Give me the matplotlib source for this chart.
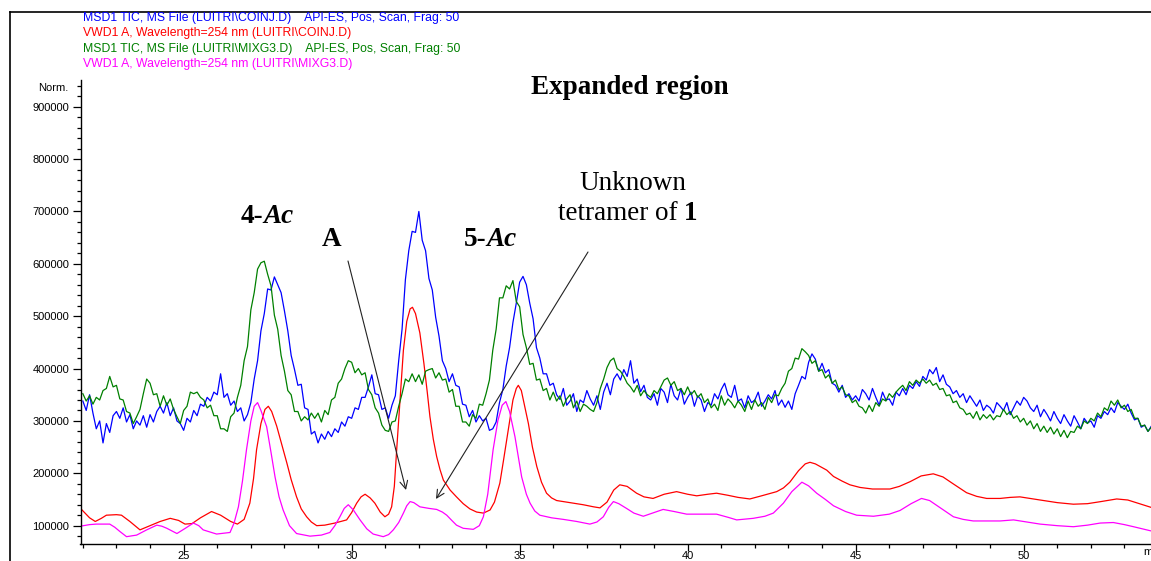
import numpy as np
import matplotlib
matplotlib.use("Agg")
import matplotlib.pyplot as plt
from matplotlib.ticker import MultipleLocator, FixedLocator
from matplotlib.lines import Line2D

# ---------------- data (values in thousands of counts) ----------------
tic_t0 = 22.0      # min, first TIC sample
tic_dt = 0.1       # min, TIC sampling step

blue_k = [
    338, 320, 350, 315, 285, 300, 258, 295, 278, 310,
    318, 305, 325, 298, 312, 285, 300, 292, 310, 288,
    312, 298, 318, 328, 315, 335, 310, 325, 300, 295,
    282, 305, 298, 320, 310, 332, 328, 345, 338, 355,
    350, 390, 345, 352, 330, 338, 318, 325, 300, 312,
    335, 380, 415, 472, 505, 552, 550, 575, 560, 545,
    510, 472, 425, 398, 368, 370, 325, 322, 275, 280,
    258, 275, 265, 280, 270, 285, 278, 298, 290, 308,
    305, 325, 322, 345, 345, 365, 388, 352, 350, 322,
    325, 305, 330, 348, 415, 475, 570, 625, 662, 660,
    700, 645, 625, 572, 550, 498, 462, 415, 400, 375,
    390, 368, 365, 332, 330, 308, 320, 298, 310, 300,
    305, 282, 285, 298, 335, 360, 405, 440, 488, 525,
    565, 576, 560, 525, 495, 440, 420, 390, 390, 368,
    372, 350, 341, 362, 330, 338, 352, 318, 340, 335,
    358, 342, 330, 348, 322, 355, 372, 350, 380, 390,
    378, 398, 385, 415, 372, 380, 356, 368, 345, 340,
    352, 330, 362, 355, 335, 370, 348, 340, 362, 332,
    345, 355, 328, 348, 340, 318, 335, 330, 352, 342,
    360, 372, 350, 345, 368, 338, 342, 325, 348, 335,
    340, 355, 328, 338, 350, 342, 358, 330, 340, 326,
    338, 322, 352, 368, 385, 380, 412, 428, 418, 395,
    410, 392, 398, 372, 368, 355, 368, 345, 352, 340,
    348, 338, 360, 352, 340, 362, 345, 330, 355, 340,
    342, 330, 355, 348, 362, 350, 368, 362, 375, 366,
    385, 378, 398, 390, 402, 375, 388, 370, 365, 352,
    358, 345, 352, 335, 348, 338, 328, 340, 320, 330,
    325, 315, 335, 328, 320, 335, 312, 325, 338, 330,
    345, 338, 325, 318, 330, 308, 322, 312, 300, 318,
    305, 295, 312, 300, 290, 310, 298, 285, 305, 296,
    300, 288, 310, 305, 318, 312, 325, 316, 335, 328,
    322, 332, 315, 302, 305, 288, 292, 280, 290,
]

green_k = [
    352, 338, 348, 332, 345, 340, 358, 362, 385, 365,
    368, 342, 340, 318, 315, 295, 308, 322, 352, 380,
    372, 350, 352, 328, 348, 330, 342, 322, 308, 295,
    320, 328, 355, 352, 355, 345, 340, 325, 330, 310,
    310, 285, 285, 280, 308, 315, 345, 368, 415, 442,
    512, 545, 590, 602, 605, 580, 558, 502, 475, 425,
    395, 358, 350, 318, 318, 300, 308, 302, 315, 305,
    315, 298, 320, 312, 340, 345, 372, 380, 400, 415,
    412, 392, 400, 388, 392, 360, 350, 325, 315, 292,
    282, 280, 298, 300, 328, 352, 380, 375, 390, 375,
    388, 370, 395, 398, 400, 382, 392, 378, 380, 355,
    360, 328, 328, 298, 298, 290, 312, 305, 332, 330,
    352, 378, 435, 475, 535, 535, 558, 552, 568, 528,
    518, 465, 440, 408, 410, 378, 380, 358, 362, 340,
    355, 338, 348, 328, 342, 350, 325, 338, 318, 332,
    328, 322, 318, 335, 362, 380, 402, 415, 420, 400,
    395, 385, 372, 365, 355, 368, 348, 358, 350, 345,
    358, 352, 365, 378, 382, 368, 375, 358, 362, 350,
    365, 350, 358, 345, 352, 335, 342, 325, 332, 320,
    348, 330, 342, 335, 325, 338, 330, 318, 338, 322,
    340, 328, 335, 322, 345, 335, 350, 348, 362, 372,
    395, 400, 420, 418, 438, 432, 425, 410, 415, 395,
    398, 382, 388, 372, 378, 360, 365, 350, 348, 335,
    340, 328, 325, 315, 330, 318, 335, 328, 342, 338,
    352, 345, 355, 362, 368, 358, 375, 368, 378, 372,
    380, 372, 378, 368, 372, 360, 362, 348, 350, 335,
    338, 325, 322, 312, 315, 305, 318, 302, 312, 305,
    312, 302, 310, 308, 322, 312, 318, 305, 310, 298,
    305, 292, 300, 285, 295, 280, 290, 278, 288, 275,
    285, 270, 282, 268, 280, 278, 290, 285, 300, 295,
    305, 300, 315, 308, 325, 320, 338, 330, 340, 325,
    330, 318, 322, 305, 305, 290, 292, 280, 288,
]

red_t = [21.93, 22.2, 22.37, 22.55, 22.7, 23.0, 23.15, 23.4, 23.7, 24.0, 24.3, 24.6,
         24.85, 25.04, 25.25, 25.5, 25.83, 26.1, 26.4, 26.6, 26.8, 26.97, 27.08, 27.17,
         27.3, 27.42, 27.52, 27.62, 27.77, 27.92, 28.07, 28.2, 28.36, 28.5, 28.66, 28.8,
         28.96, 29.2, 29.5, 29.85, 30.0, 30.15, 30.28, 30.4, 30.55, 30.69, 30.85, 30.99,
         31.1, 31.19, 31.27, 31.34, 31.44, 31.54, 31.64, 31.74, 31.81, 31.9, 32.03, 32.15,
         32.25, 32.33, 32.43, 32.53, 32.63, 32.73, 32.93, 33.12, 33.32, 33.52, 33.72, 33.92,
         34.12, 34.25, 34.41, 34.52, 34.66, 34.8, 34.9, 34.96, 35.05, 35.16, 35.26, 35.38,
         35.51, 35.65, 35.8, 35.95, 36.1, 36.5, 36.89, 37.2, 37.39, 37.6, 37.8, 37.98,
         38.2, 38.48, 38.7, 38.97, 39.3, 39.67, 40.0, 40.27, 40.6, 40.86, 41.2, 41.5,
         41.85, 42.2, 42.65, 42.85, 43.04, 43.3, 43.5, 43.64, 43.8, 44.14, 44.34, 44.6,
         44.83, 45.13, 45.5, 46.02, 46.3, 46.62, 46.95, 47.31, 47.6, 47.9, 48.3, 48.6,
         48.9, 49.3, 49.6, 49.89, 50.2, 50.49, 51.0, 51.48, 51.9, 52.3, 52.77, 53.1,
         53.4, 53.79]
red_k = [133, 115, 108, 114, 120, 121, 120, 108, 92, 100, 108, 114,
         110, 103, 104, 115, 127, 120, 108, 103, 112, 143, 190, 245,
         295, 322, 328, 318, 290, 255, 220, 188, 155, 132, 117, 107,
         100, 101, 105, 111, 125, 143, 155, 160, 153, 143, 126, 117,
         122, 136, 175, 245, 340, 435, 490, 514, 517, 505, 468, 410,
         355, 308, 265, 232, 207, 187, 168, 155, 142, 132, 126, 124,
         130, 145, 181, 225, 283, 340, 362, 368, 358, 325, 295, 250,
         213, 183, 162, 153, 148, 144, 140, 136, 134, 145, 168, 178,
         175, 162, 155, 152, 160, 165, 160, 157, 160, 162, 158, 154,
         151, 157, 165, 172, 183, 205, 218, 221, 218, 206, 194, 185,
         178, 173, 170, 170, 175, 184, 195, 199, 193, 180, 163, 156,
         152, 152, 154, 155, 152, 149, 144, 141, 142, 146, 151, 149,
         143, 135]

mag_t = [21.93, 22.2, 22.4, 22.8, 22.95, 23.1, 23.3, 23.6, 23.9, 24.2, 24.35, 24.5,
         24.8, 25.05, 25.29, 25.45, 25.58, 25.98, 26.38, 26.5, 26.63, 26.75, 26.87, 27.0,
         27.1, 27.2, 27.3, 27.47, 27.6, 27.72, 27.84, 27.96, 28.15, 28.36, 28.76, 29.1,
         29.35, 29.5, 29.65, 29.78, 29.9, 30.05, 30.25, 30.45, 30.64, 30.94, 31.1, 31.24,
         31.4, 31.54, 31.64, 31.74, 31.85, 32.03, 32.3, 32.53, 32.7, 32.83, 32.98, 33.12,
         33.32, 33.62, 33.8, 33.92, 34.05, 34.21, 34.35, 34.48, 34.59, 34.7, 34.86, 35.06,
         35.2, 35.31, 35.45, 35.6, 35.95, 36.3, 36.7, 37.09, 37.3, 37.49, 37.65, 37.79,
         37.95, 38.18, 38.4, 38.68, 38.95, 39.27, 39.6, 39.97, 40.4, 40.86, 41.2, 41.46,
         41.95, 42.3, 42.55, 42.85, 43.1, 43.4, 43.6, 43.84, 44.1, 44.34, 44.7, 45.03,
         45.53, 46.0, 46.32, 46.65, 46.96, 47.2, 47.5, 47.91, 48.2, 48.5, 49.3, 49.7,
         50.1, 50.49, 51.0, 51.48, 51.9, 52.28, 52.67, 53.0, 53.27, 53.79]
mag_k = [99, 102, 103, 103, 97, 89, 79, 82, 92, 101, 99, 95,
         85, 95, 105, 100, 92, 84, 87, 105, 136, 185, 245, 300,
         328, 335, 320, 289, 240, 193, 155, 130, 100, 85, 80, 82,
         87, 100, 117, 133, 140, 130, 111, 94, 84, 79, 83, 92,
         106, 124, 138, 146, 144, 136, 133, 131, 126, 120, 110, 101,
         95, 93, 100, 117, 160, 245, 300, 330, 337, 318, 270, 193,
         160, 143, 128, 120, 115, 112, 108, 103, 107, 117, 135, 146,
         142, 133, 124, 118, 124, 131, 127, 122, 122, 122, 116, 111,
         114, 118, 124, 143, 165, 183, 176, 162, 150, 138, 127, 120,
         118, 122, 129, 142, 152, 148, 135, 117, 112, 109, 109, 111,
         107, 103, 100, 98, 101, 105, 106, 102, 98, 90]

legend_labels = [
    "MSD1 TIC, MS File (LUITRI\\COINJ.D)    API-ES, Pos, Scan, Frag: 50",
    "VWD1 A, Wavelength=254 nm (LUITRI\\COINJ.D)",
    "MSD1 TIC, MS File (LUITRI\\MIXG3.D)    API-ES, Pos, Scan, Frag: 50",
    "VWD1 A, Wavelength=254 nm (LUITRI\\MIXG3.D)",
]
y_ticks = [100000, 200000, 300000, 400000, 500000, 600000, 700000, 800000, 900000]
x_ticks = [25, 30, 35, 40, 45, 50]

# ---------------- figure ----------------
W, H = 1151, 561
fig = plt.figure(figsize=(W / 100, H / 100), dpi=100)
fig.patch.set_facecolor("white")
ax = fig.add_axes([80.5 / W, 1 - 544 / H, 1 - 80.5 / W, (544 - 80) / H])

col_blue, col_red, col_green, col_mag = "#0000FF", "#FF0000", "#008000", "#FF00FF"
tic_t = tic_t0 + tic_dt * np.arange(len(blue_k))
lw = 0.9
ax.plot(tic_t, np.array(blue_k) * 1000, color=col_blue, lw=lw)
ax.plot(red_t, np.array(red_k) * 1000, color=col_red, lw=lw)
ax.plot(tic_t, np.array(green_k) * 1000, color=col_green, lw=lw)
ax.plot(mag_t, np.array(mag_k) * 1000, color=col_mag, lw=lw)

ax.set_xlim(21.93, 53.79)
ax.set_ylim(65000, 951000)
for s in ("top", "right"):
    ax.spines[s].set_visible(False)
for s in ("left", "bottom"):
    ax.spines[s].set_linewidth(1.0)

ax.yaxis.set_major_locator(FixedLocator(y_ticks))
ax.set_yticklabels([str(v) for v in y_ticks])
ax.yaxis.set_minor_locator(MultipleLocator(20000))
ax.xaxis.set_major_locator(FixedLocator(x_ticks))
ax.set_xticklabels([str(v) for v in x_ticks])
ax.xaxis.set_minor_locator(MultipleLocator(1))
ax.tick_params(axis="y", which="major", direction="out", length=6, width=0.9,
               labelsize=8, pad=2)
ax.tick_params(axis="x", which="major", direction="out", length=5, width=0.9,
               labelsize=8, pad=0)
ax.tick_params(which="minor", direction="out", length=3, width=0.9)
for lab in ax.get_xticklabels() + ax.get_yticklabels():
    lab.set_fontfamily("Liberation Sans")

# legend-like header lines
for i, (txt, c) in enumerate(zip(legend_labels, [col_blue, col_red, col_green, col_mag])):
    fig.text(83 / W, 1 - (18 + i * 15.4) / H, txt, color=c, fontsize=8.8,
             family="Liberation Sans", ha="left", va="center")

fig.text(68 / W, 1 - 88 / H, "Norm.", fontsize=8, family="Liberation Sans",
         ha="right", va="center")
fig.text(1143 / W, 1 - 552 / H, "min", fontsize=8, family="Liberation Sans",
         ha="left", va="center")

# outer frame (left and top)
fig.add_artist(Line2D([9.5 / W, 9.5 / W], [0, 1 - 12 / H], transform=fig.transFigure,
                      color="black", lw=1.2))
fig.add_artist(Line2D([9.5 / W, 1], [1 - 12 / H, 1 - 12 / H], transform=fig.transFigure,
                      color="black", lw=1.2))

# annotations
serif = "Liberation Serif"
fs = 19.5
def ftxt(x, y, s, **kw):
    fig.text(x / W, 1 - y / H, s, family=serif, fontsize=fs, va="center", **kw)

ftxt(630, 87, "Expanded region", ha="center", weight="bold")
ftxt(263, 217, "4-", ha="right", weight="bold")
ftxt(263, 217, "Ac", ha="left", weight="bold", style="italic")
ftxt(332, 240, "A", ha="center", weight="bold")
ftxt(486, 240, "5-", ha="right", weight="bold")
ftxt(486, 240, "Ac", ha="left", weight="bold", style="italic")
ftxt(633, 183, "Unknown", ha="center")
ftxt(684, 213, "tetramer of ", ha="right")
ftxt(684, 213, "1", ha="left", weight="bold")

arrow_kw = dict(arrowstyle="->", color="#222222", lw=0.8, mutation_scale=14,
                shrinkA=0, shrinkB=0)
ax.annotate("", xy=(406, H - 490), xycoords="figure pixels",
            xytext=(348, H - 261), textcoords="figure pixels", arrowprops=arrow_kw)
ax.annotate("", xy=(436, H - 499), xycoords="figure pixels",
            xytext=(588, H - 252), textcoords="figure pixels", arrowprops=arrow_kw)

fig.savefig("out.png", dpi=100)
